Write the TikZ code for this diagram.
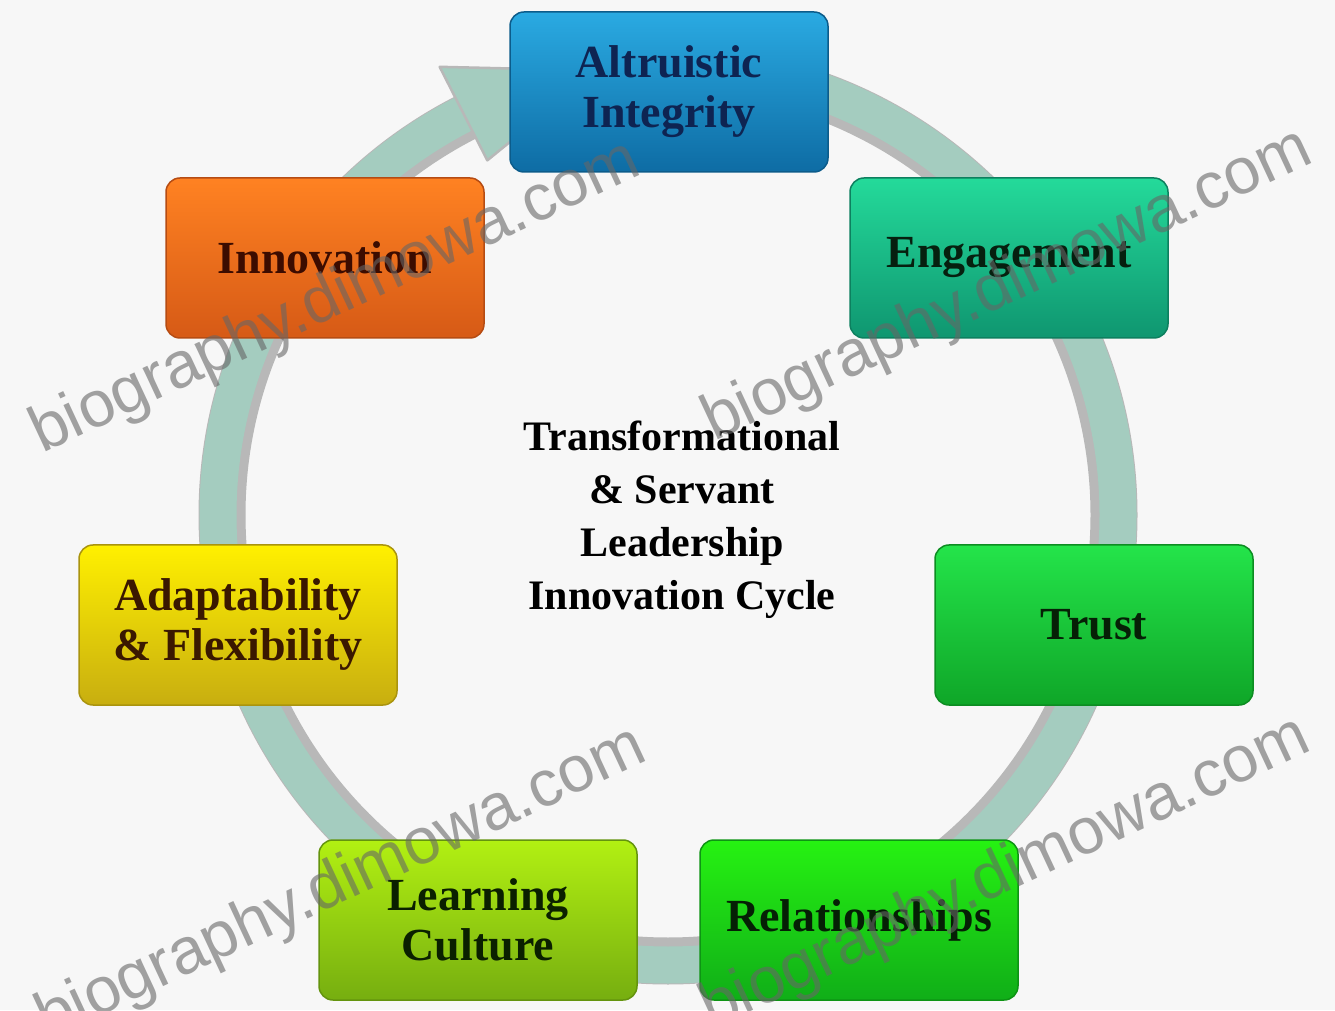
\documentclass[tikz,border=0pt]{standalone}
\usepackage{fontspec}
\setmainfont{Liberation Serif}
\newfontfamily\wmfont{Liberation Sans}
\definecolor{bgcol}{HTML}{F7F7F7}
\definecolor{ringcol}{HTML}{A4CCBF}
\definecolor{ringshadow}{HTML}{B8B8B8}
\definecolor{altA}{HTML}{2AAAE2}\definecolor{altB}{HTML}{1890C8}\definecolor{altC}{HTML}{0E6CA4}\definecolor{altT}{HTML}{0E2452}
\definecolor{engA}{HTML}{24DA9A}\definecolor{engB}{HTML}{18C088}\definecolor{engC}{HTML}{0F9670}\definecolor{engT}{HTML}{06200F}
\definecolor{truA}{HTML}{24E44A}\definecolor{truB}{HTML}{18C232}\definecolor{truC}{HTML}{0FA628}\definecolor{truT}{HTML}{062006}
\definecolor{relA}{HTML}{26F212}\definecolor{relB}{HTML}{1AD212}\definecolor{relC}{HTML}{10AE18}\definecolor{relT}{HTML}{052005}
\definecolor{leaA}{HTML}{B2F012}\definecolor{leaB}{HTML}{94D010}\definecolor{leaC}{HTML}{76AE10}\definecolor{leaT}{HTML}{0A2000}
\definecolor{adaA}{HTML}{FFF000}\definecolor{adaB}{HTML}{EAD200}\definecolor{adaC}{HTML}{C8AE10}\definecolor{adaT}{HTML}{3A1800}
\definecolor{innA}{HTML}{FF8222}\definecolor{innB}{HTML}{EE6C12}\definecolor{innC}{HTML}{D65A16}\definecolor{innT}{HTML}{3C0C00}
\begin{document}
\begin{tikzpicture}[x=1pt,y=1pt,
  box/.style={rounded corners=14pt, minimum width=318pt, minimum height=160pt,
    align=center, inner sep=0pt, font=\fontsize{46}{50}\selectfont\bfseries},
  cbox/.style={box, top color=#1A, middle color=#1B, bottom color=#1C,
    draw=#1C!85!black, line width=1.5pt, text=#1T},
  wm/.style={font=\wmfont\fontsize{65}{65}\selectfont, text=black!60,
    text opacity=0.6, anchor=base west, rotate=25, inner sep=0pt}]
\fill[bgcol] (0,0) rectangle (1335,1010);
\useasboundingbox (0,0) rectangle (1335,1010);
% ring
\coordinate (c) at (668,495);
\draw[ringshadow, line width=47pt] (c) circle (446);
\draw[ringcol, line width=37pt] (c) circle (450);
% arrowhead
\coordinate (ah1) at ([shift={(117:503)}]c);
\coordinate (ah2) at ([shift={(99:450)}]c);
\coordinate (ah3) at ([shift={(117:398)}]c);
\fill[ringcol, draw=ringshadow, line width=2.5pt, line join=round] (ah1) -- (ah2) -- (ah3) -- cycle;
% boxes
\node[cbox=alt] (alt) at (669,918) {Altruistic\\Integrity};
\node[cbox=eng] (eng) at (1009,752) {Engagement};
\node[cbox=tru] (trust) at (1094,385) {Trust};
\node[cbox=rel] (rel) at (859,90) {Relationships};
\node[cbox=lea] (learn) at (478,90) {Learning\\Culture};
\node[cbox=ada] (adapt) at (238,385) {Adaptability\\\& Flexibility};
\node[cbox=inn] (innov) at (325,752) {Innovation};
% centre title
\node[align=center, font=\fontsize{42}{53}\selectfont\bfseries] (title) at (682,490)
  {Transformational\\\& Servant\\Leadership\\Innovation Cycle};
% watermarks
\node[wm] (wm1) at (42,556) {biography.dimowa.com};
\node[wm] (wm2) at (714,568) {biography.dimowa.com};
\node[wm] (wm3) at (48,-30) {biography.dimowa.com};
\node[wm] (wm4) at (712,-20) {biography.dimowa.com};
\end{tikzpicture}
\end{document}
